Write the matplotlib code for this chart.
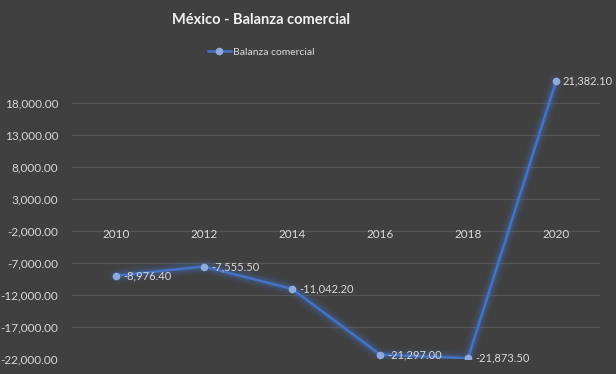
import matplotlib
matplotlib.use("Agg")
import matplotlib.pyplot as plt
import matplotlib.ticker as ticker

YEARS = ["2010", "2012", "2014", "2016", "2018", "2020"]
BALANZA = [-8976.40, -7555.50, -11042.20, -21297.00, -21873.50, 21382.10]
Y_TICKS = [-22000, -17000, -12000, -7000, -2000, 3000, 8000, 13000, 18000]

BG = "#404040"
GRID = "#565656"
TEXT = "#d9d9d9"
LINE = "#4472c4"
MARKER = "#8faadc"

plt.rcParams["font.family"] = ["Lato", "DejaVu Sans"]

fig = plt.figure(figsize=(6.16, 3.74), dpi=100, facecolor=BG)
ax = fig.add_axes([72 / 616, 1 - 359 / 374, 528 / 616, 288 / 374])
ax.set_facecolor(BG)

x = list(range(len(YEARS)))

# glow
for lw, a in [(12, 0.05), (9, 0.08), (6.5, 0.12), (4.5, 0.18)]:
    ax.plot(x, BALANZA, color=LINE, linewidth=lw, alpha=a, solid_capstyle="round",
            solid_joinstyle="round", zorder=2)
line, = ax.plot(x, BALANZA, color=LINE, linewidth=1.8, marker="o", markersize=4.5,
                markerfacecolor=MARKER, markeredgecolor=MARKER, zorder=3,
                label="Balanza comercial")

for xi, v in zip(x, BALANZA):
    ax.annotate(f"{v:,.2f}", (xi, v), xytext=(5, 0), textcoords="offset points",
                ha="left", va="center", fontsize=8, color=TEXT, zorder=4)

ax.set_xlim(-0.5, len(YEARS) - 0.5)
ax.set_ylim(-22000, 23000)
ax.set_xticks(x)
ax.set_xticklabels(YEARS)
ax.set_yticks(Y_TICKS)
ax.yaxis.set_major_formatter(ticker.FuncFormatter(lambda v, p: f"{v:,.2f}"))

for tick in Y_TICKS[1:]:
    ax.axhline(tick, color=GRID, linewidth=0.9, zorder=1)

for s in ["top", "right", "left"]:
    ax.spines[s].set_visible(False)
ax.spines["bottom"].set_position(("data", 0))
ax.spines["bottom"].set_visible(False)
ax.tick_params(axis="both", length=0, colors=TEXT, labelsize=8.5)
ax.tick_params(axis="x", pad=8)
ax.tick_params(axis="y", pad=10)

fig.text(261 / 616, 1 - 20 / 374, "México - Balanza comercial", ha="center", va="center",
         fontsize=10.5, fontweight="bold", color="#f2f2f2")
fig.legend(handles=[line], loc="center", bbox_to_anchor=(261 / 616, 1 - 52 / 374),
           frameon=False, fontsize=7.5, labelcolor=TEXT, handlelength=2.2,
           handletextpad=0.2, borderaxespad=0)

fig.savefig("out.png", dpi=100, facecolor=BG)
